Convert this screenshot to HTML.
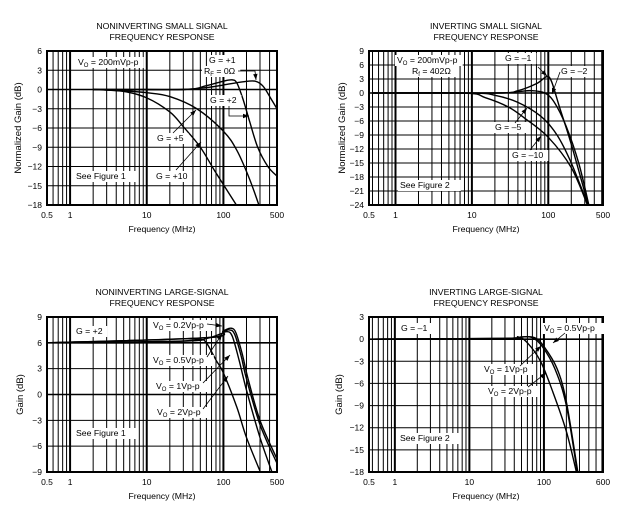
<!DOCTYPE html>
<html><head><meta charset="utf-8"><style>
html,body{margin:0;padding:0;background:#fff;}
svg{display:block;font-family:"Liberation Sans",sans-serif;}
</style></head><body>
<svg id="s" width="620" height="513" viewBox="0 0 620 513" xmlns="http://www.w3.org/2000/svg"></svg>
<script>
const S=document.getElementById('s');let h='';
function chart(o){
 const {x0,x1,y0,y1,ymax,ymin,step,f0,f1}=o;
 const X=f=>x0+(Math.log10(f)-Math.log10(f0))/(Math.log10(f1)-Math.log10(f0))*(x1-x0);
 const Y=d=>y0+(ymax-d)/(ymax-ymin)*(y1-y0);
 for(let dec=0.1;dec<=1000;dec*=10){for(let m=1;m<10;m++){const f=dec*m;if(f<=f0*1.0001||f>=f1*0.9999)continue;
  const x=X(f);h+=`<line x1="${x}" y1="${y0}" x2="${x}" y2="${y1}" stroke="#000" stroke-width="${m==1?2:1}"/>`;}}
 for(let d=ymax-step;d>ymin;d-=step){const y=Y(d);h+=`<line x1="${x0}" y1="${y}" x2="${x1}" y2="${y}" stroke="#000" stroke-width="${d==0||d==6&&o.six?1.6:1}"/>`;}
 h+=`<rect x="${x0}" y="${y0}" width="${x1-x0}" height="${y1-y0}" fill="none" stroke="#000" stroke-width="2"/>`;
 for(let d=ymax;d>=ymin-0.01;d-=step){h+=`<text x="${x0-5}" y="${Y(d)+3}" font-size="8.5" text-anchor="end">${d<0?'\u2212'+(-d):d}</text>`;}
 [[f0,'0.5'],[1,'1'],[10,'10'],[100,'100'],[f1,o.lastLab]].forEach(([f,t])=>{h+=`<text x="${X(f)}" y="${y1+13}" font-size="8.5" text-anchor="middle">${t}</text>`;});
 const cx=(x0+x1)/2;
 h+=`<text x="${cx}" y="${y1+27}" font-size="8.7" text-anchor="middle">Frequency (MHz)</text>`;
 h+=`<text transform="translate(${o.ylx},${(y0+y1)/2}) rotate(-90)" font-size="9.5" text-anchor="middle">${o.ylab}</text>`;
 h+=`<text x="${cx}" y="${y0-22}" font-size="8.7" text-anchor="middle">${o.t1}</text><text x="${cx}" y="${y0-11}" font-size="8.7" text-anchor="middle">FREQUENCY RESPONSE</text>`;
 h+=`<defs><clipPath id="c${o.id}"><rect x="${x0}" y="${y0}" width="${x1-x0}" height="${y1-y0}"/></clipPath></defs>`;
 o.curves.forEach(c=>{const p=c.map(([f,d])=>[X(f),Y(d)]);let s=`M${p[0][0]},${p[0][1]}`;
  for(let i=0;i<p.length-1;i++){const a=p[Math.max(0,i-1)],b=p[i],q=p[i+1],r=p[Math.min(p.length-1,i+2)];
   s+=`C${b[0]+(q[0]-a[0])/6},${b[1]+(q[1]-a[1])/6} ${q[0]-(r[0]-b[0])/6},${q[1]-(r[1]-b[1])/6} ${q[0]},${q[1]}`;}
  h+=`<path d="${s}" fill="none" stroke="#000" stroke-width="1.4" clip-path="url(#c${o.id})"/>`;});
 o.labels.forEach(([x,y,t])=>{const w=t.replace(/<[^>]+>/g,'').length*4.9;h+=`<rect x="${x-2}" y="${y-8}" width="${w+4}" height="11" fill="#fff"/><text x="${x}" y="${y}" font-size="8.7">${t}</text>`;});
 o.arrows.forEach(a=>{let pts=a.map(p=>p.join(',')).join(' ');h+=`<polyline points="${pts}" fill="none" stroke="#000" stroke-width="0.8"/>`;
  const [x2,y2]=a[a.length-1],[x1b,y1b]=a[a.length-2];const ang=Math.atan2(y2-y1b,x2-x1b)*180/Math.PI;
  h+=`<polygon points="0,0 -6,-2.2 -6,2.2" transform="translate(${x2},${y2}) rotate(${ang})"/>`;});
}
const V=(s)=>`V<tspan font-size="6" dy="2">O</tspan><tspan dy="-2"> = ${s}</tspan>`;
chart({id:1,x0:47,x1:277,y0:51,y1:205,ymax:6,ymin:-18,step:3,f0:0.5,f1:500,lastLab:'500',ylx:21,ylab:'Normalized Gain (dB)',t1:'NONINVERTING SMALL SIGNAL',
 curves:[
  [[2,0],[10,0],[30,0],[60,0.3],[100,0.7],[180,1.2],[260,1.3],[330,0.5],[420,-1.5],[500,-3]],
  [[2,0],[30,0],[60,0.6],[100,1.3],[130,1.5],[150,1],[180,-1.5],[220,-5],[280,-9],[380,-12],[500,-13.5]],
  [[2,0],[5,-0.2],[10,-0.5],[20,-1.1],[45,-3],[100,-6.5],[150,-9.5],[220,-14],[300,-18.5]],
  [[2,0],[5,-0.3],[10,-1.3],[20,-3.5],[30,-5.8],[50,-9],[80,-13],[157,-18.5]]],
 labels:[[78,65,V('200mVp-p')],[209,63,'G = +1'],[204,74,'R<tspan font-size="6" dy="2">F</tspan><tspan dy="-2"> = 0\u03A9</tspan>'],[210,103,'G = +2'],[157,141,'G = +5'],[156,179,'G = +10'],[76,179,'See Figure 1']],
 arrows:[[[173,133],[196,110]],[[176,170],[201,142]],[[229,106],[229,116],[249,116]],[[238,71],[255,71],[256,80]]]});
chart({id:2,x0:369,x1:603,y0:51,y1:205,ymax:9,ymin:-24,step:3,f0:0.45,f1:520,lastLab:'500',ylx:345,ylab:'Normalized Gain (dB)',t1:'INVERTING SMALL SIGNAL',
 curves:[
  [[0.5,0],[20,0],[40,0.5],[70,2],[95,3.5],[110,2.5],[140,-3],[200,-11],[340,-24.5]],
  [[0.5,0],[20,0],[40,0.3],[60,0.5],[90,0],[120,-2],[170,-7],[250,-15],[345,-24.5]],
  [[0.5,0],[10,0],[20,-0.5],[40,-2],[80,-5],[130,-9],[200,-15],[340,-24.5]],
  [[0.5,0],[8,0],[15,-1],[30,-3],[50,-5.5],[100,-9.5],[200,-16],[335,-24.5]]],
 labels:[[397,63,V('200mVp-p')],[412,74,'R<tspan font-size="6" dy="2">f</tspan><tspan dy="-2"> = 402\u03A9</tspan>'],[505,61,'G = \u20131'],[561,74,'G = \u20132'],[495,130,'G = \u20135'],[512,158,'G = \u201310'],[400,188,'See Figure 2']],
 arrows:[[[538,67],[547,76]],[[560,72],[552,94]],[[515,123],[527,108]],[[530,150],[541,136]]]});
chart({id:3,x0:47,x1:277,y0:317,y1:472,ymax:9,ymin:-9,step:3,f0:0.5,f1:500,lastLab:'500',six:1,ylx:23,ylab:'Gain (dB)',t1:'NONINVERTING LARGE-SIGNAL',
 curves:[
  [[0.5,6],[10,6],[30,6.2],[50,6.4],[60,6],[80,4],[100,2.5],[150,-1.5],[200,-5],[320,-9.5]],
  [[0.5,6],[30,6.2],[60,6.5],[90,7],[110,7.3],[130,6.8],[160,4],[200,0.5],[300,-5],[450,-9.5]],
  [[0.5,6],[60,6.6],[100,7.3],[120,7.5],[140,7],[170,4.5],[200,1.8],[300,-3.5],[500,-8]],
  [[0.5,6],[60,6.6],[100,7.4],[125,7.7],[145,7.2],[175,4.8],[210,1.8],[300,-3],[500,-7.5]]],
 labels:[[76,334,'G = +2'],[153,328,V('0.2Vp-p')],[153,363,V('0.5Vp-p')],[156,389,V('1Vp-p')],[157,415,V('2Vp-p')],[76,436,'See Figure 1']],
 arrows:[[[207,324],[222,326]],[[207,357],[222,334]],[[203,383],[230,355]],[[203,409],[228,376]]]});
chart({id:4,x0:369,x1:603,y0:317,y1:472,ymax:3,ymin:-18,step:3,f0:0.45,f1:620,lastLab:'600',ylx:342,ylab:'Gain (dB)',t1:'INVERTING LARGE-SIGNAL',
 curves:[
  [[0.5,0],[30,0.1],[50,0.3],[75,0.2],[100,-1],[150,-4],[200,-8.5],[290,-18.5]],
  [[0.5,0],[30,0.1],[50,0.3],[70,0.2],[95,-1],[140,-4],[200,-9],[285,-18.5]],
  [[0.5,0],[30,0.1],[45,0.3],[60,-0.5],[90,-3],[130,-7],[200,-12.5],[280,-18.5]]],
 labels:[[401,331,'G = \u20131'],[544,331,V('0.5Vp-p')],[484,372,V('1Vp-p')],[488,394,V('2Vp-p')],[400,441,'See Figure 2']],
 arrows:[[[565,333],[553,343]],[[520,366],[541,346]],[[528,387],[546,373]]]});
S.innerHTML=h;
</script>
</body></html>
